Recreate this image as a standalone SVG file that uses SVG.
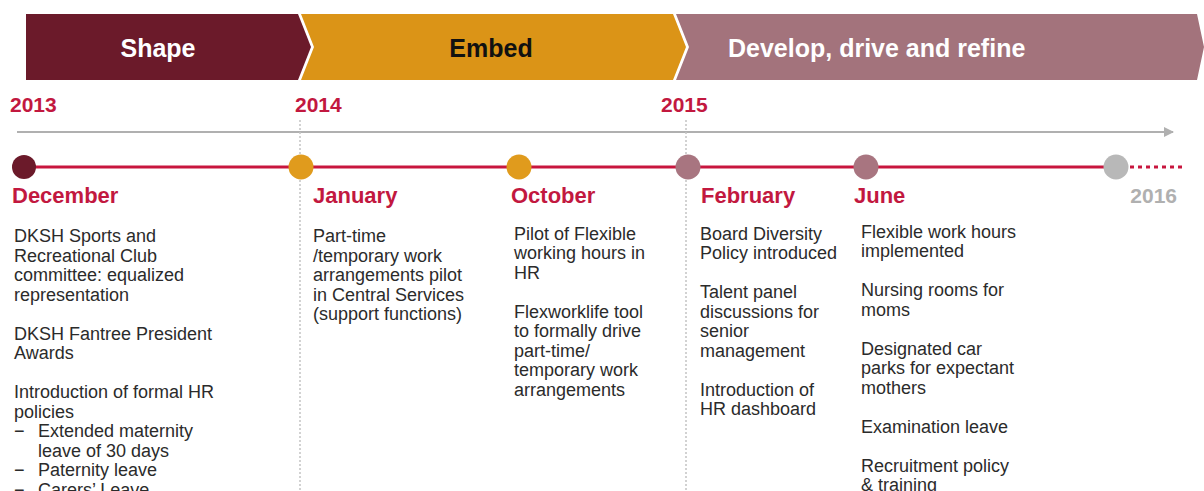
<svg xmlns="http://www.w3.org/2000/svg" width="1204" height="491" viewBox="0 0 1204 491">
<defs>
<style>
.body{font-family:"Liberation Sans",Arial,sans-serif;font-size:18px;fill:#2b2b2b}
.month{font-family:"Liberation Sans",Arial,sans-serif;font-size:22px;font-weight:bold;fill:#c2183f}
.year{font-family:"Liberation Sans",Arial,sans-serif;font-size:21px;font-weight:bold;fill:#c2183f}
.phase{font-family:"Liberation Sans",Arial,sans-serif;font-size:25px;font-weight:bold}
.vdot{stroke:#c4c4c4;stroke-width:1.5;stroke-dasharray:2 2;fill:none}
</style>
<marker id="arr" markerWidth="10" markerHeight="10" refX="9" refY="5" orient="auto" markerUnits="userSpaceOnUse">
<path d="M0,0 L10,5 L0,10 Z" fill="#b0b0b0"/>
</marker>
</defs>
<rect width="1204" height="491" fill="#ffffff"/>

<g id="phases">
<g id="phase-shape">
<polygon points="26,14 298,14 311,47 298,80 26,80" fill="#6b1a2a"/>
<text class="phase" x="158" y="57" text-anchor="middle" fill="#ffffff">Shape</text>
</g>
<g id="phase-embed">
<polygon points="301,14 673,14 686,47 673,80 301,80 314,47" fill="#db9417"/>
<text class="phase" x="491" y="57" text-anchor="middle" fill="#111111">Embed</text>
</g>
<g id="phase-develop">
<polygon points="676,14 1197,14 1204,47 1197,80 676,80 689,47" fill="#a3737c"/>
<text class="phase" x="728" y="57" fill="#ffffff">Develop, drive and refine</text>
</g>
</g>

<g id="connectors">
<line x1="17" y1="132" x2="1173" y2="132" stroke="#b0b0b0" stroke-width="2" marker-end="url(#arr)"/>
<line class="vdot" x1="300" y1="120" x2="300" y2="491"/>
<line class="vdot" x1="686" y1="120" x2="686" y2="491"/>
<line x1="24" y1="167" x2="1116" y2="167" stroke="#c8163e" stroke-width="3"/>
<line x1="1130" y1="167" x2="1182" y2="167" stroke="#c8163e" stroke-width="3" stroke-dasharray="4 4"/>
</g>

<g id="years">
<text class="year" x="10" y="112">2013</text>
<text class="year" x="295" y="112">2014</text>
<text class="year" x="661" y="112">2015</text>
</g>

<g id="node-december">
<circle cx="24" cy="167" r="12" fill="#6b1a2a"/>
<text class="month" x="12" y="203">December</text>
<text class="body">
<tspan x="14" y="242">DKSH Sports and</tspan>
<tspan x="14" y="261.5">Recreational Club</tspan>
<tspan x="14" y="281">committee: equalized</tspan>
<tspan x="14" y="300.5">representation</tspan>
<tspan x="14" y="339.5">DKSH Fantree President</tspan>
<tspan x="14" y="359">Awards</tspan>
<tspan x="14" y="398">Introduction of formal HR</tspan>
<tspan x="14" y="417.5">policies</tspan>
<tspan x="14" y="437">−</tspan><tspan x="38" y="437">Extended maternity</tspan>
<tspan x="38" y="456.5">leave of 30 days</tspan>
<tspan x="14" y="476">−</tspan><tspan x="38" y="476">Paternity leave</tspan>
<tspan x="14" y="495.5">−</tspan><tspan x="38" y="495.5">Carers’ Leave</tspan>
</text>
</g>

<g id="node-january">
<circle cx="301" cy="167" r="12.5" fill="#e09b1d"/>
<text class="month" x="313" y="203">January</text>
<text class="body">
<tspan x="313" y="242">Part-time</tspan>
<tspan x="313" y="261.5">/temporary work</tspan>
<tspan x="313" y="281">arrangements pilot</tspan>
<tspan x="313" y="300.5">in Central Services</tspan>
<tspan x="313" y="320">(support functions)</tspan>
</text>
</g>

<g id="node-october">
<circle cx="519" cy="167" r="12.5" fill="#e09b1d"/>
<text class="month" x="511" y="203">October</text>
<text class="body">
<tspan x="514" y="239.5">Pilot of Flexible</tspan>
<tspan x="514" y="259">working hours in</tspan>
<tspan x="514" y="278.5">HR</tspan>
<tspan x="514" y="317.5">Flexworklife tool</tspan>
<tspan x="514" y="337">to formally drive</tspan>
<tspan x="514" y="356.5">part-time/</tspan>
<tspan x="514" y="376">temporary work</tspan>
<tspan x="514" y="395.5">arrangements</tspan>
</text>
</g>

<g id="node-february">
<circle cx="688" cy="167" r="12.5" fill="#a87580"/>
<text class="month" x="701" y="203">February</text>
<text class="body">
<tspan x="700" y="239.5">Board Diversity</tspan>
<tspan x="700" y="259">Policy introduced</tspan>
<tspan x="700" y="298">Talent panel</tspan>
<tspan x="700" y="317.5">discussions for</tspan>
<tspan x="700" y="337">senior</tspan>
<tspan x="700" y="356.5">management</tspan>
<tspan x="700" y="395.5">Introduction of</tspan>
<tspan x="700" y="415">HR dashboard</tspan>
</text>
</g>

<g id="node-june">
<circle cx="866" cy="167" r="12.5" fill="#a87580"/>
<text class="month" x="854" y="203">June</text>
<text class="body">
<tspan x="861" y="237.5">Flexible work hours</tspan>
<tspan x="861" y="257">implemented</tspan>
<tspan x="861" y="296">Nursing rooms for</tspan>
<tspan x="861" y="315.5">moms</tspan>
<tspan x="861" y="354.5">Designated car</tspan>
<tspan x="861" y="374">parks for expectant</tspan>
<tspan x="861" y="393.5">mothers</tspan>
<tspan x="861" y="432.5">Examination leave</tspan>
<tspan x="861" y="471.5">Recruitment policy</tspan>
<tspan x="861" y="491">&amp; training</tspan>
</text>
</g>

<g id="node-2016">
<circle cx="1116" cy="167" r="12.5" fill="#b8b8b8"/>
<text class="year" x="1177" y="203" text-anchor="end" style="fill:#b0b0b0">2016</text>
</g>
</svg>
